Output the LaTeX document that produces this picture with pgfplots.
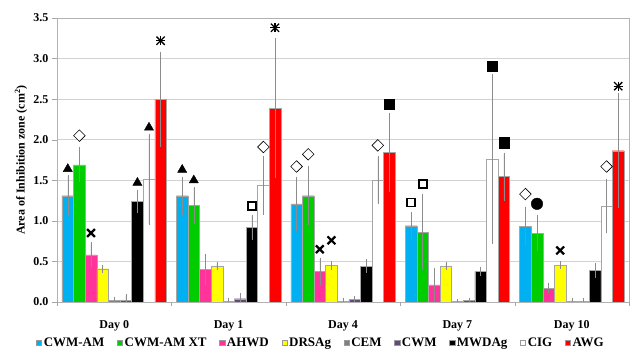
\documentclass[border=0pt]{standalone}
\usepackage{fontspec}
\setmainfont{Liberation Serif}
\usepackage{pgfplots}
\pgfplotsset{compat=1.18}
\definecolor{cA}{HTML}{00B0F0}
\definecolor{cB}{HTML}{00CC00}
\definecolor{cC}{HTML}{FF3399}
\definecolor{cD}{HTML}{FFFF00}
\definecolor{cE}{HTML}{808080}
\definecolor{cF}{HTML}{604A7B}
\definecolor{cG}{HTML}{000000}
\definecolor{cH}{HTML}{FFFFFF}
\definecolor{cI}{HTML}{FF0000}
\pgfplotsset{
  mybar/.style={ybar, bar width=11.6pt, bar shift=0pt, xshift=#1, draw=gray!70, line width=0.3pt,
    legend image code/.code={\draw[##1, draw=gray!80, line width=0.3pt] (0pt,-2.6pt) rectangle (5.2pt,2.6pt);},
    error bars/y dir=both, error bars/y explicit,
    error bars/error bar style={gray!90, line width=0.4pt},
    error bars/error mark options={gray!90, mark size=1.2pt, line width=0.4pt}},
  mk/.style={forget plot, only marks, xshift=#1},
  tri/.style={mark=triangle*, mark size=5.3pt, mark options={draw=black, fill=black}},
  dia/.style={mark=square*, mark size=4.1pt, mark options={rotate=45, draw=black, fill=white, line width=0.6pt}},
  crs/.style={mark=x, mark size=5.5pt, mark options={draw=black, line width=2.2pt}},
  sqo/.style={mark=square, mark size=4pt, mark options={draw=black, line width=1.8pt}},
  sqf/.style={mark=square*, mark size=5.1pt, mark options={draw=black, fill=black}},
  cir/.style={mark=*, mark size=5.8pt, mark options={draw=black, fill=black}},
  asta/.style={mark=+, mark size=4.6pt, mark options={draw=black, line width=1.3pt}},
  astb/.style={mark=x, mark size=5.8pt, mark options={draw=black, line width=1.3pt}},
}
\begin{document}
\begin{tikzpicture}
\useasboundingbox (-57pt,-53pt) rectangle (578pt,302pt);
\begin{axis}[
  scale only axis, width=572pt, height=284pt,
  xmin=-0.5, xmax=4.5, ymin=0, ymax=3.5,
  xtick={0,1,2,3,4}, xticklabels={Day 0,Day 1,Day 4,Day 7,Day 10},
  major x tick style={draw=none},
  extra x ticks={-0.5,0.5,1.5,2.5,3.5,4.5}, extra x tick labels={},
  extra x tick style={grid=none, major tick length=4pt, tick align=outside, major x tick style={draw=gray!70}},
  ytick={0,0.5,1,1.5,2,2.5,3,3.5},
  yticklabel style={/pgf/number format/.cd, fixed, fixed zerofill, precision=1},
  /pgf/number format/assume math mode=true,
  tick pos=left, tick align=outside, major tick length=5pt,
  major y tick style={gray!70},
  ymajorgrids, grid style={gray!35, line width=0.5pt},
  axis line style={gray!60},
  tick label style={font=\bfseries\fontsize{12}{14}\selectfont},
  xticklabel style={yshift=-10pt},
  ylabel={Area of Inhibition zone (cm\textsuperscript{2})},
  ylabel style={font=\bfseries\fontsize{12}{14}\selectfont, at={(axis description cs:-0.063,0.5)}, anchor=center},
  legend columns=9,
  legend style={draw=none, fill=none, at={(0.4615,-0.144)}, anchor=center,
    font=\bfseries\fontsize{13}{15}\selectfont,
    /tikz/every even column/.append style={column sep=10.8pt}},
]
\addplot[mybar=-46.4pt, fill=cA] table[x=x, y=y, y error=e] {
x y e
0 1.31 0.24
1 1.31 0.22
2 1.21 0.32
3 0.94 0.15
4 0.93 0.23
};
\addlegendentry{CWM-AM}
\addplot[mybar=-34.8pt, fill=cB] table[x=x, y=y, y error=e] {
x y e
0 1.69 0.20
1 1.19 0.21
2 1.31 0.35
3 0.86 0.45
4 0.85 0.21
};
\addlegendentry{CWM-AM XT}
\addplot[mybar=-23.2pt, fill=cC] table[x=x, y=y, y error=e] {
x y e
0 0.58 0.14
1 0.40 0.18
2 0.38 0.15
3 0.21 0.20
4 0.17 0.05
};
\addlegendentry{AHWD}
\addplot[mybar=-11.6pt, fill=cD] table[x=x, y=y, y error=e] {
x y e
0 0.41 0.035
1 0.445 0.03
2 0.45 0.04
3 0.445 0.035
4 0.455 0.03
};
\addlegendentry{DRSAg}
\addplot[mybar=0pt, fill=cE] table[x=x, y=y, y error=e] {
x y e
0 0.02 0.03
1 0.01 0.02
2 0.01 0.02
3 0.01 0.01
4 0.01 0.02
};
\addlegendentry{CEM}
\addplot[mybar=11.6pt, fill=cF] table[x=x, y=y, y error=e] {
x y e
0 0.02 0.06
1 0.04 0.06
2 0.03 0.03
3 0.02 0.02
4 0.01 0.02
};
\addlegendentry{CWM}
\addplot[mybar=23.2pt, fill=cG] table[x=x, y=y, y error=e] {
x y e
0 1.24 0.13
1 0.92 0.14
2 0.44 0.07
3 0.375 0.04
4 0.39 0.075
};
\addlegendentry{MWDAg}
\addplot[mybar=34.8pt, fill=cH] table[x=x, y=y, y error=e] {
x y e
0 1.51 0.55
1 1.44 0.35
2 1.50 0.28
3 1.76 1.03
4 1.18 0.32
};
\addlegendentry{CIG}
\addplot[mybar=46.4pt, fill=cI] table[x=x, y=y, y error=e] {
x y e
0 2.50 0.57
1 2.39 0.85
2 1.845 0.47
3 1.545 0.28
4 1.865 0.69
};
\addlegendentry{AWG}
% significance markers
% CWM-AM
\addplot[mk=-46.4pt, tri] coordinates {(0,1.64) (1,1.63)};
\addplot[mk=-46.4pt, dia] coordinates {(2,1.67) (4,1.33)};
\addplot[mk=-46.4pt, sqo] coordinates {(3,1.225)};
% CWM-AM XT
\addplot[mk=-34.8pt, dia] coordinates {(0,2.05) (2,1.82)};
\addplot[mk=-34.8pt, tri] coordinates {(1,1.50)};
\addplot[mk=-34.8pt, sqo] coordinates {(3,1.455)};
\addplot[mk=-34.8pt, cir] coordinates {(4,1.21)};
% AHWD
\addplot[mk=-23.2pt, crs] coordinates {(0,0.85) (2,0.65)};
% DRSAg
\addplot[mk=-11.6pt, crs] coordinates {(2,0.76) (4,0.635)};
% MWDAg
\addplot[mk=23.2pt, tri] coordinates {(0,1.47)};
\addplot[mk=23.2pt, sqo] coordinates {(1,1.18)};
% CIG
\addplot[mk=34.8pt, tri] coordinates {(0,2.15)};
\addplot[mk=34.8pt, dia] coordinates {(1,1.91) (2,1.93) (4,1.67)};
\addplot[mk=34.8pt, sqf] coordinates {(3,2.91)};
% AWG
\addplot[mk=46.4pt, asta] coordinates {(0,3.22) (1,3.38) (4,2.66)};
\addplot[mk=46.4pt, astb] coordinates {(0,3.22) (1,3.38) (4,2.66)};
\addplot[mk=46.4pt, sqf] coordinates {(2,2.44) (3,1.963)};
\end{axis}
\end{tikzpicture}
\end{document}
